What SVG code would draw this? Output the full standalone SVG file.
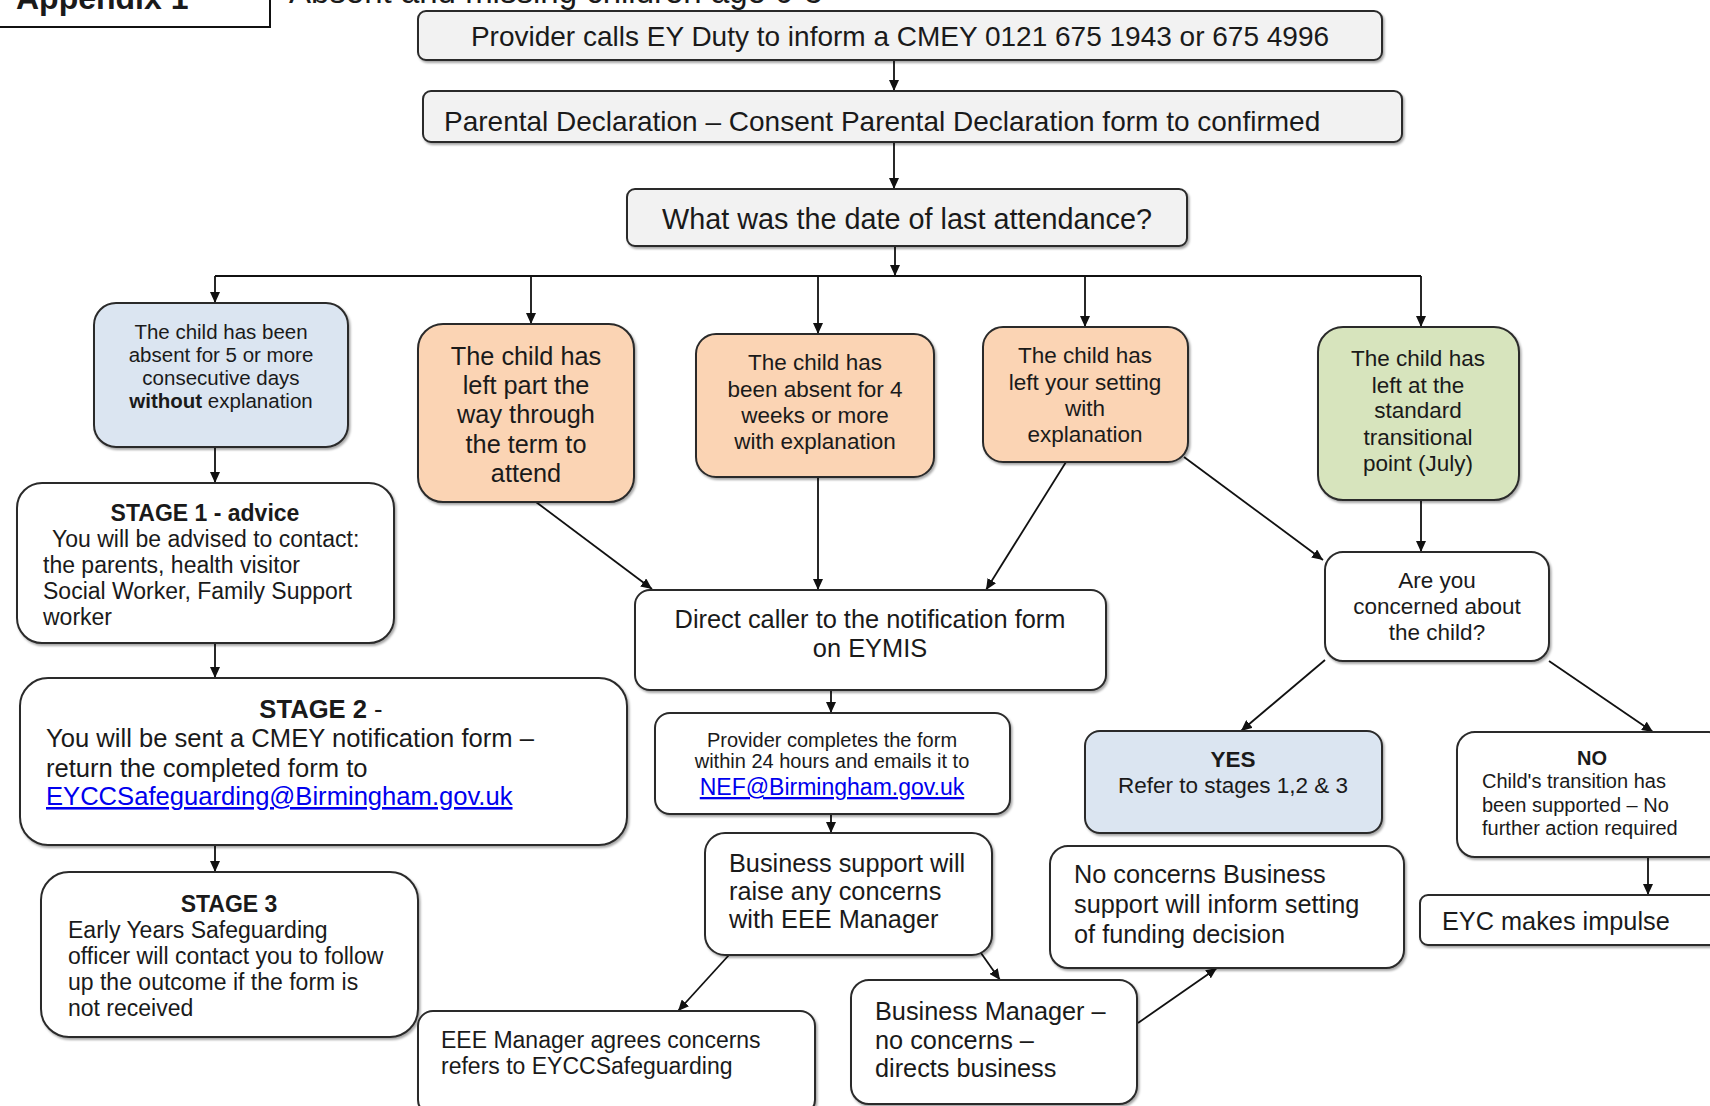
<svg xmlns="http://www.w3.org/2000/svg" width="1710" height="1106" viewBox="0 0 1710 1106">
<style>
text{font-family:"Liberation Sans",Arial,sans-serif;fill:#1a1a1a}
.b{font-weight:bold}
.c{text-anchor:middle}
.s20{font-size:20px}.s205{font-size:20.5px}.s22{font-size:22.5px}.s23{font-size:23px}.s25{font-size:25.3px}.s256{font-size:25.6px}.s28{font-size:28px}
.box{stroke:#2b2b2b;stroke-width:2;fill:#fff;filter:url(#sh)}
.gray{fill:#f2f2f2}.blue{fill:#dbe5f1}.orange{fill:#fbd4b4}.green{fill:#d7e4bd}
.link{fill:#0000ee;text-decoration:underline}
.con line,.con path{stroke:#111;stroke-width:1.8;fill:none}
.con line{marker-end:url(#ah)}
</style>
<defs>
<filter id="sh" x="-10%" y="-10%" width="120%" height="130%">
<feDropShadow dx="1.5" dy="2" stdDeviation="1" flood-color="#000" flood-opacity="0.35"/>
</filter>
<marker id="ah" markerUnits="userSpaceOnUse" markerWidth="12" markerHeight="10" refX="11" refY="5" orient="auto">
<path d="M0,0 L11,5 L0,10 z" fill="#111"/>
</marker>
</defs>
<rect width="1710" height="1106" fill="#fff"/>

<g id="header">
<rect x="-4" y="-20" width="274" height="47" fill="#fff" stroke="#111" stroke-width="2"/>
<text x="16" y="9" class="b" font-size="32">Appendix 1</text>
<text x="289" y="3" font-size="33">Absent and missing children age 0-5</text>
</g>

<g class="con" id="connectors">
<line x1="894" y1="60" x2="894" y2="91"/>
<line x1="894" y1="142" x2="894" y2="189"/>
<line x1="895" y1="246" x2="895" y2="276"/>
<path d="M215,276 H1421"/>
<line x1="215" y1="276" x2="215" y2="303"/>
<line x1="531" y1="276" x2="531" y2="324"/>
<line x1="818" y1="276" x2="818" y2="334"/>
<line x1="1085" y1="276" x2="1085" y2="327"/>
<line x1="1421" y1="276" x2="1421" y2="327"/>
<line x1="215" y1="447" x2="215" y2="483"/>
<line x1="215" y1="643" x2="215" y2="678"/>
<line x1="215" y1="845" x2="215" y2="872"/>
<line x1="536" y1="502" x2="652" y2="589"/>
<line x1="818" y1="477" x2="818" y2="590"/>
<line x1="1066" y1="462" x2="986" y2="590"/>
<line x1="1184" y1="457" x2="1323" y2="560"/>
<line x1="1421" y1="500" x2="1421" y2="552"/>
<line x1="831" y1="690" x2="831" y2="713"/>
<line x1="831" y1="814" x2="831" y2="833"/>
<line x1="729" y1="955" x2="678" y2="1011"/>
<line x1="981" y1="953" x2="1000" y2="980"/>
<line x1="1138" y1="1023" x2="1217" y2="968"/>
<line x1="1325" y1="660" x2="1241" y2="731"/>
<line x1="1549" y1="661" x2="1653" y2="732"/>
<line x1="1648" y1="857" x2="1648" y2="895"/>
</g>

<g id="n_provider">
<rect class="box gray" x="418" y="11" width="964" height="49" rx="8"/>
<text class="s28 c" x="900" y="46">Provider calls EY Duty to inform a CMEY 0121 675 1943 or 675 4996</text>
</g>
<g id="n_parental">
<rect class="box gray" x="423" y="91" width="979" height="51" rx="8"/>
<text class="s28" x="444" y="131">Parental Declaration – Consent Parental Declaration form to confirmed</text>
</g>
<g id="n_what">
<rect class="box gray" x="627" y="189" width="560" height="57" rx="8"/>
<text class="c" font-size="28.8" x="907" y="229">What was the date of last attendance?</text>
</g>

<g id="n_absent5">
<rect class="box blue" x="94" y="303" width="254" height="144" rx="22"/>
<text class="s205 c" x="221" y="339">The child has been</text>
<text class="s205 c" x="221" y="362">absent for 5 or more</text>
<text class="s205 c" x="221" y="385">consecutive days</text>
<text class="s205 c" x="221" y="408"><tspan class="b">without</tspan> explanation</text>
</g>
<g id="n_leftpart">
<rect class="box orange" x="418" y="324" width="216" height="178" rx="25"/>
<text class="s25 c" x="526" y="365">The child has</text>
<text class="s25 c" x="526" y="394">left part the</text>
<text class="s25 c" x="526" y="423">way through</text>
<text class="s25 c" x="526" y="453">the term to</text>
<text class="s25 c" x="526" y="482">attend</text>
</g>
<g id="n_absent4">
<rect class="box orange" x="696" y="334" width="238" height="143" rx="20"/>
<text class="s22 c" x="815" y="370">The child has</text>
<text class="s22 c" x="815" y="397">been absent for 4</text>
<text class="s22 c" x="815" y="423">weeks or more</text>
<text class="s22 c" x="815" y="449">with explanation</text>
</g>
<g id="n_leftsetting">
<rect class="box orange" x="983" y="327" width="205" height="135" rx="20"/>
<text class="s22 c" x="1085" y="363">The child has</text>
<text class="s22 c" x="1085" y="390">left your setting</text>
<text class="s22 c" x="1085" y="416">with</text>
<text class="s22 c" x="1085" y="442">explanation</text>
</g>
<g id="n_transition">
<rect class="box green" x="1318" y="327" width="201" height="173" rx="25"/>
<text class="s22 c" x="1418" y="366">The child has</text>
<text class="s22 c" x="1418" y="393">left at the</text>
<text class="s22 c" x="1418" y="418">standard</text>
<text class="s22 c" x="1418" y="445">transitional</text>
<text class="s22 c" x="1418" y="471">point (July)</text>
</g>

<g id="n_stage1">
<rect class="box" x="17" y="483" width="377" height="160" rx="25"/>
<text class="s23 c b" x="205" y="521">STAGE 1 - advice</text>
<text class="s23" x="52" y="547">You will be advised to contact:</text>
<text class="s23" x="43" y="573">the parents, health visitor</text>
<text class="s23" x="43" y="599">Social Worker, Family Support</text>
<text class="s23" x="43" y="625">worker</text>
</g>
<g id="n_stage2">
<rect class="box" x="20" y="678" width="607" height="167" rx="28"/>
<text class="s256 c" x="321" y="718"><tspan class="b">STAGE 2</tspan> -</text>
<text class="s256" x="46" y="747">You will be sent a CMEY notification form –</text>
<text class="s256" x="46" y="777">return the completed form to</text>
<text class="s256 link" x="46" y="805">EYCCSafeguarding@Birmingham.gov.uk</text>
</g>
<g id="n_stage3">
<rect class="box" x="41" y="872" width="377" height="165" rx="28"/>
<text class="s23 c b" x="229" y="912">STAGE 3</text>
<text class="s23" x="68" y="938">Early Years Safeguarding</text>
<text class="s23" x="68" y="964">officer will contact you to follow</text>
<text class="s23" x="68" y="990">up the outcome if the form is</text>
<text class="s23" x="68" y="1016">not received</text>
</g>

<g id="n_direct">
<rect class="box" x="635" y="590" width="471" height="100" rx="15"/>
<text class="c" font-size="25.4" x="870" y="628">Direct caller to the notification form</text>
<text class="c" font-size="25.4" x="870" y="657">on EYMIS</text>
</g>
<g id="n_provcompletes">
<rect class="box" x="655" y="713" width="355" height="101" rx="15"/>
<text class="s20 c" x="832" y="747">Provider completes the form</text>
<text class="s20 c" x="832" y="768">within 24 hours and emails it to</text>
<text class="link c" font-size="23" x="832" y="795">NEF@Birmingham.gov.uk</text>
</g>
<g id="n_bizsupport">
<rect class="box" x="705" y="833" width="287" height="122" rx="20"/>
<text class="s25" x="729" y="872">Business support will</text>
<text class="s25" x="729" y="900">raise any concerns</text>
<text class="s25" x="729" y="928">with EEE Manager</text>
</g>
<g id="n_eee">
<rect class="box" x="418" y="1011" width="397" height="104" rx="15"/>
<text class="s23" x="441" y="1048">EEE Manager agrees concerns</text>
<text class="s23" x="441" y="1074">refers to EYCCSafeguarding</text>
</g>
<g id="n_bizmanager">
<rect class="box" x="851" y="980" width="286" height="124" rx="18"/>
<text class="s25" x="875" y="1020">Business Manager –</text>
<text class="s25" x="875" y="1049">no concerns –</text>
<text class="s25" x="875" y="1077">directs business</text>
</g>
<g id="n_noconcerns">
<rect class="box" x="1050" y="846" width="354" height="122" rx="18"/>
<text class="s25" x="1074" y="883">No concerns Business</text>
<text class="s25" x="1074" y="913">support will inform setting</text>
<text class="s25" x="1074" y="943">of funding decision</text>
</g>

<g id="n_areyou">
<rect class="box" x="1325" y="552" width="224" height="109" rx="18"/>
<text class="s22 c" x="1437" y="588">Are you</text>
<text class="s22 c" x="1437" y="614">concerned about</text>
<text class="s22 c" x="1437" y="640">the child?</text>
</g>
<g id="n_yes">
<rect class="box blue" x="1085" y="731" width="297" height="102" rx="15"/>
<text class="s22 c b" x="1233" y="767">YES</text>
<text class="s22 c" x="1233" y="793">Refer to stages 1,2 &amp; 3</text>
</g>
<g id="n_no">
<rect class="box" x="1457" y="732" width="270" height="125" rx="18"/>
<text class="s20 c b" x="1592" y="765">NO</text>
<text class="s20" x="1482" y="788">Child's transition has</text>
<text class="s20" x="1482" y="812">been supported – No</text>
<text class="s20" x="1482" y="835">further action required</text>
</g>
<g id="n_eyc">
<rect class="box" x="1420" y="895" width="300" height="50" rx="8"/>
<text class="s25" x="1442" y="930">EYC makes impulse</text>
</g>
</svg>
